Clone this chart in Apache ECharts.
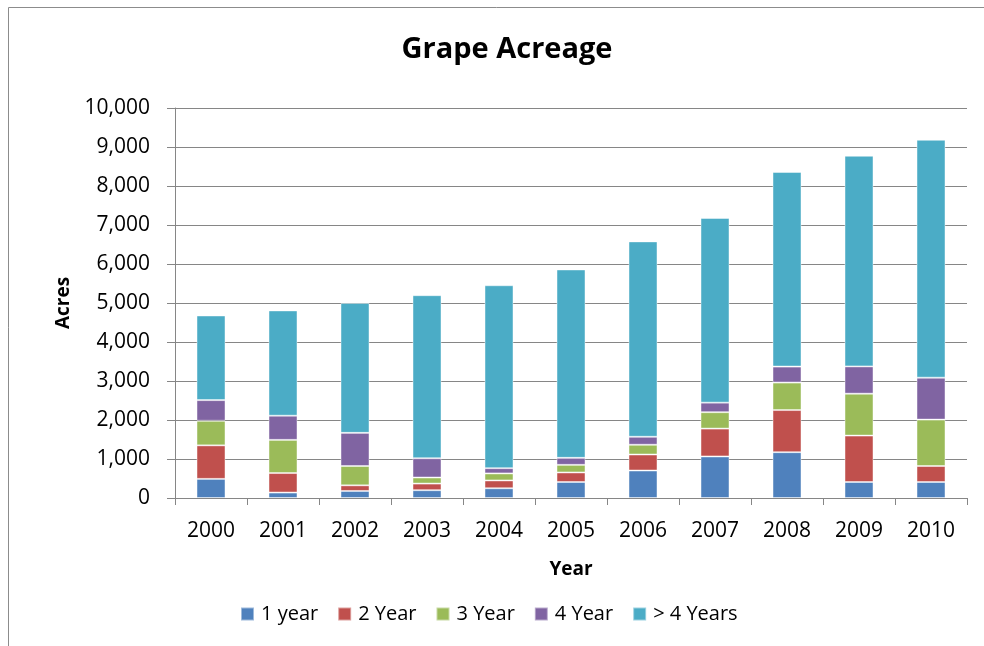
<!DOCTYPE html>
<html>
<head>
<meta charset="utf-8">
<title>Grape Acreage</title>
<script src="https://cdn.jsdelivr.net/npm/echarts@6/dist/echarts.min.js"></script>
<style>
    html, body { margin: 0; padding: 0; background: #fff; }
    #grapeChart { width: 984px; height: 646px; }
</style>
</head>
<body>
<div id="grapeChart"></div>
<script>
// data
const years = ['2000', '2001', '2002', '2003', '2004', '2005', '2006', '2007', '2008', '2009', '2010'];
const oneYear   = [490, 140, 180, 200, 250, 410, 705, 1065, 1175, 410, 410];
const twoYear   = [860, 500, 145, 170, 200, 245, 410, 715, 1080, 1190, 410];
const threeYear = [630, 850, 495, 155, 180, 195, 250, 420, 705, 1075, 1190];
const fourYear  = [530, 620, 850, 495, 135, 180, 205, 245, 410, 700, 1075];
const overFour  = [2170, 2700, 3330, 4180, 4690, 4830, 5010, 4735, 4990, 5400, 6100];

const seriesNames = ['1 year', '2 Year', '3 Year', '4 Year', '> 4 Years'];
const seriesData = [oneYear, twoYear, threeYear, fourYear, overFour];
const colors = ['#4F81BD', '#C0504D', '#9BBB59', '#8064A2', '#4BACC6'];

const font = 'Open Sans';
let myChart = echarts.init(document.getElementById('grapeChart'));

myChart.setOption({
    backgroundColor: '#fff',
    animation: false,
    color: colors,
    title: {
        text: 'Grape Acreage',
        left: 502,
        textAlign: 'center',
        top: 30,
        textStyle: { fontFamily: font, fontSize: 29, fontWeight: 'bold', color: '#000' }
    },
    legend: {
        data: seriesNames,
        left: 235,
        top: 599,
        icon: 'rect',
        itemWidth: 13,
        itemHeight: 13,
        itemGap: 19,
        textStyle: { fontFamily: font, fontSize: 20, color: '#000', padding: [0, 0, 0, 2] }
    },
    grid: { left: 175, right: 17, top: 108, bottom: 148 },
    xAxis: {
        type: 'category',
        data: years,
        name: 'Year',
        nameLocation: 'middle',
        nameGap: 62,
        nameTextStyle: { fontFamily: font, fontSize: 19, fontWeight: 'bold', color: '#000' },
        axisLine: { lineStyle: { color: '#868686', width: 1 } },
        axisTick: { show: true, length: 7, lineStyle: { color: '#868686' } },
        axisLabel: { margin: 23, fontFamily: font, fontSize: 21, color: '#000' }
    },
    yAxis: {
        type: 'value',
        min: 0,
        max: 10000,
        interval: 1000,
        name: 'Acres',
        nameLocation: 'middle',
        nameGap: 102,
        nameTextStyle: { fontFamily: font, fontSize: 19, fontWeight: 'bold', color: '#000' },
        axisLine: { show: true, lineStyle: { color: '#868686', width: 1 } },
        axisTick: { show: true, length: 8, lineStyle: { color: '#868686' } },
        splitLine: { lineStyle: { color: '#868686', width: 1 } },
        axisLabel: {
            margin: 25,
            fontFamily: font,
            fontSize: 21,
            color: '#000',
            formatter: v => v.toLocaleString('en-US')
        }
    },
    graphic: [{
        type: 'rect',
        shape: { x: 8.5, y: 7.5, width: 1000, height: 700 },
        style: { fill: 'none', stroke: '#8c8c8c', lineWidth: 1 },
        silent: true,
        z: -10
    }],
    series: seriesNames.map((name, i) => ({
        name: name,
        type: 'bar',
        stack: 'acres',
        barWidth: 29,
        itemStyle: { borderColor: 'rgba(255,255,255,0.45)', borderWidth: 1 },
        data: seriesData[i]
    }))
});

window.addEventListener('resize', function () {
    myChart.resize();
});
</script>
</body>
</html>
